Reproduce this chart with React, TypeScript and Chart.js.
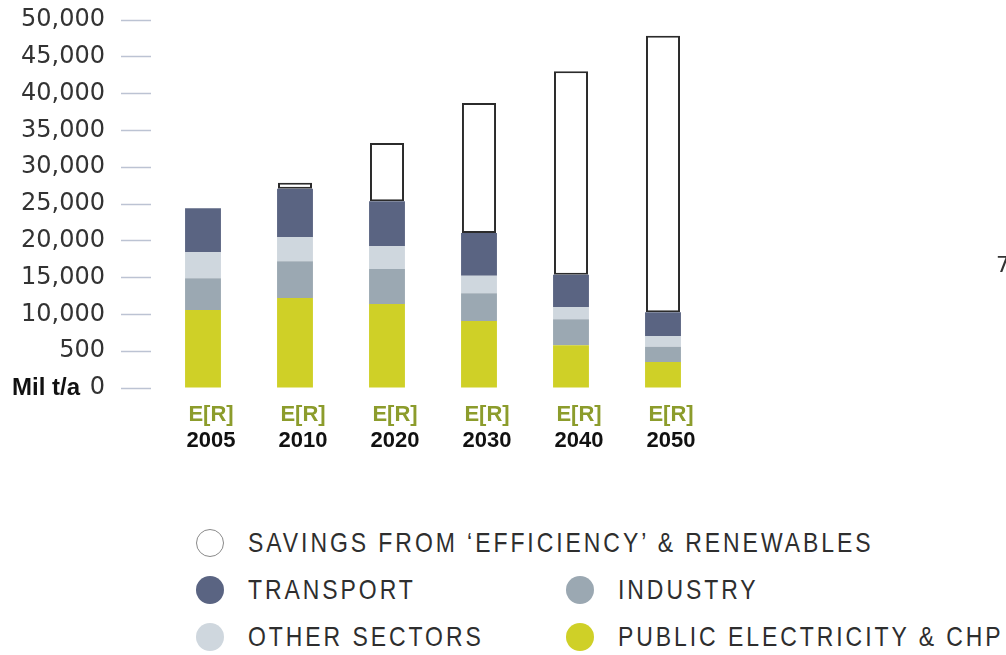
import React, { useEffect, useRef } from "react";
import { Chart, registerables } from "chart.js";

Chart.register(...registerables);

// ---------- data ----------
const categories = ["2005", "2010", "2020", "2030", "2040", "2050"];
const scenarioLabel = "E[R]";
const unitLabel = "Mil t/a";

const publicElectricity = [10600, 12230, 11410, 9100, 5800, 3530];
const industry = [4300, 4980, 4760, 3770, 3530, 2080];
const otherSectors = [3540, 3270, 3080, 2390, 1630, 1460];
const transport = [5980, 6600, 6110, 5800, 4440, 3220];
const savings = [null, 820, 7930, 17660, 27630, 37580];

const yTickLabels = [
  "0",
  "500",
  "10,000",
  "15,000",
  "20,000",
  "25,000",
  "30,000",
  "35,000",
  "40,000",
  "45,000",
  "50,000",
];

const seriesNames = {
  savings: "SAVINGS FROM \u2018EFFICIENCY\u2019 & RENEWABLES",
  transport: "TRANSPORT",
  industry: "INDUSTRY",
  other: "OTHER SECTORS",
  pe: "PUBLIC ELECTRICITY & CHP",
};

const colors = {
  savings: "#ffffff",
  transport: "#5a6482",
  industry: "#9ba8b2",
  other: "#cfd7de",
  pe: "#cfd027",
};

const legendRows: string[][] = [["savings"], ["transport", "industry"], ["other", "pe"]];

const SANS = '"Liberation Sans", Arial, sans-serif';
const LABEL_SHIFT = 8;

export default function App() {
  const ref = useRef<HTMLCanvasElement>(null);

  useEffect(() => {
    if (!ref.current) return;

    const extraLabels = {
      id: "extraLabels",
      afterDraw(chart: any) {
        const { ctx, scales } = chart;
        const x = scales.x;
        const y = scales.y;
        ctx.save();
        ctx.font = `bold 22px ${SANS}`;
        ctx.fillStyle = "#8c9c2c";
        ctx.textAlign = "center";
        ctx.textBaseline = "middle";
        categories.forEach((_, i) => {
          ctx.fillText(scenarioLabel, x.getPixelForValue(i) + LABEL_SHIFT, x.top + 27);
        });
        ctx.font = `bold 24px ${SANS}`;
        ctx.fillStyle = "#111111";
        ctx.textAlign = "right";
        ctx.fillText(unitLabel, 80, y.getPixelForValue(0));
        ctx.restore();
      },
    };

    const chart = new Chart(ref.current, {
      type: "bar",
      data: {
        labels: categories,
        datasets: [
          { label: seriesNames.pe, data: publicElectricity, backgroundColor: colors.pe },
          { label: seriesNames.industry, data: industry, backgroundColor: colors.industry },
          { label: seriesNames.other, data: otherSectors, backgroundColor: colors.other },
          { label: seriesNames.transport, data: transport, backgroundColor: colors.transport },
          {
            label: seriesNames.savings,
            data: savings as any,
            backgroundColor: colors.savings,
            borderColor: "#2b2b2b",
            borderWidth: 2,
            borderSkipped: false,
            barPercentage: 0.37,
          },
        ],
      },
      options: {
        animation: false,
        responsive: false,
        devicePixelRatio: 1,
        layout: { padding: { top: 20, right: 297, left: 0, bottom: 0 } },
        datasets: { bar: { barPercentage: 0.39, categoryPercentage: 1 } },
        plugins: { legend: { display: false }, tooltip: { enabled: false } },
        scales: {
          x: {
            stacked: true,
            grid: { display: false, drawTicks: false },
            border: { display: false },
            ticks: {
              font: { family: SANS, size: 22, weight: "bold" },
              color: "#111111",
              padding: 40,
              labelOffset: LABEL_SHIFT,
              maxRotation: 0,
              autoSkip: false,
            },
            afterFit: (s: any) => {
              s.height = 82;
              s.paddingLeft = 0;
              s.paddingRight = 0;
            },
          },
          y: {
            stacked: true,
            min: 0,
            max: 50000,
            ticks: {
              stepSize: 5000,
              callback: (v: any) => yTickLabels[Math.round(Number(v) / 5000)],
              font: { family: "DejaVu Sans", size: 24 },
              color: "#333333",
              padding: 16,
            },
            grid: {
              drawOnChartArea: false,
              drawTicks: true,
              tickLength: 36,
              tickColor: "#bcc3d3",
              tickWidth: 1.5,
              tickBorderDash: [30, 60],
            },
            border: { display: false },
            afterFit: (s: any) => {
              s.width = 157;
              s.paddingTop = 0;
              s.paddingBottom = 0;
            },
          },
        },
      } as any,
      plugins: [extraLabels],
    });

    return () => chart.destroy();
  }, []);

  const rowCenters = [543, 590, 637];
  const colLefts = [196, 566];

  return (
    <div
      style={{
        position: "absolute",
        left: 0,
        top: 0,
        width: 1006,
        height: 655,
        background: "#ffffff",
        overflow: "hidden",
      }}
    >
      <canvas ref={ref} width={1006} height={470} style={{ display: "block", width: 1006, height: 470 }} />
      {legendRows.map((row, ri) =>
        row.map((key, ci) => (
          <div
            key={key}
            style={{
              position: "absolute",
              left: colLefts[ci],
              top: rowCenters[ri] - 20,
              height: 40,
              display: "flex",
              alignItems: "center",
              whiteSpace: "nowrap",
            }}
          >
            <span
              style={{
                display: "inline-block",
                flex: "none",
                width: 28,
                height: 28,
                borderRadius: "50%",
                boxSizing: "border-box",
                background: (colors as any)[key],
                border: key === "savings" ? "1.5px solid #8a8a8a" : "none",
                marginRight: 24,
              }}
            />
            <span
              style={{
                display: "inline-block",
                fontFamily: SANS,
                fontSize: 28,
                lineHeight: "40px",
                letterSpacing: 3.6,
                color: "#2e2e2e",
                transform: "scaleX(0.82)",
                transformOrigin: "left center",
              }}
            >
              {(seriesNames as any)[key]}
            </span>
          </div>
        ))
      )}
      <span
        style={{
          position: "absolute",
          left: 996,
          top: 254,
          fontFamily: "DejaVu Sans",
          fontSize: 22,
          lineHeight: 1,
          color: "#333333",
        }}
      >
        7
      </span>
    </div>
  );
}
